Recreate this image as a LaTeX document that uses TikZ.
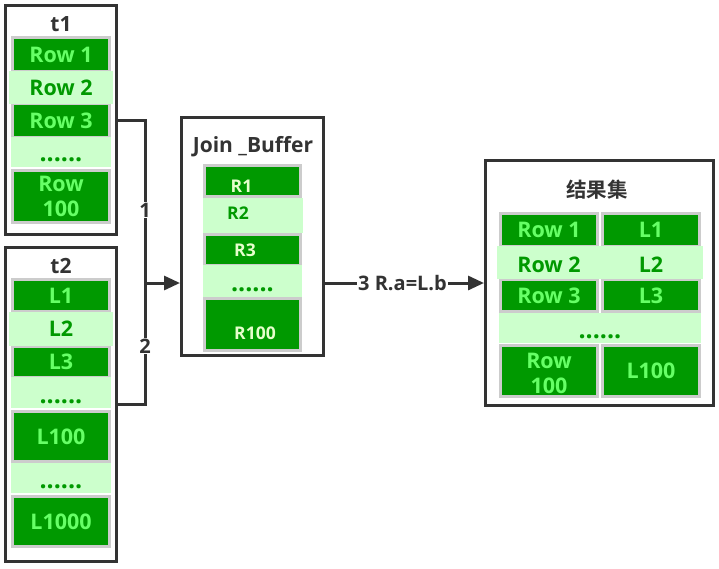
\documentclass[tikz,border=0pt]{standalone}
\usepackage{fontspec}
\setmainfont{Open Sans}
\newfontfamily\cjk{Noto Sans CJK SC Bold}
\usetikzlibrary{arrows.meta}
\definecolor{dk}{HTML}{333333}
\definecolor{gr}{HTML}{009900}
\definecolor{lt}{HTML}{66FF66}
\definecolor{bd}{HTML}{CCFFCC}
\definecolor{dg}{HTML}{009900}
\definecolor{gy}{HTML}{CCCCCC}
\definecolor{pl}{HTML}{E6FFCC}
\newcommand{\fs}[1]{\fontsize{#1}{25}\selectfont}
\tikzset{
  box/.style={draw=dk, line width=3pt, fill=white, inner sep=0pt},
  cell/.style={fill=gr, draw=gy, line width=3pt, text=lt, inner sep=0pt,
    minimum width=97pt, font=\bfseries\fs{21.5}, align=center},
  band/.style={fill=bd, text=dg, inner sep=0pt, font=\bfseries\fs{21.5}, align=center},
  small/.style={font=\bfseries\fs{17.5}, inner sep=0pt},
  dotl/.style={text=dg, font=\bfseries\fs{25}, inner sep=0pt},
  ttl/.style={text=dk, font=\bfseries\fs{21}, inner sep=0pt},
  conn/.style={draw=dk, line width=3pt},
  lab/.style={fill=white, text=dk, font=\bfseries\fs{20}, inner sep=1pt},
  tip/.style={-{Triangle[length=16pt,width=14pt]}}
}
\begin{document}
\begin{tikzpicture}[x=1pt,y=-1pt]
\useasboundingbox[fill=white] (0,0) rectangle (719,568);
% outer boxes
\node[box, minimum width=111pt, minimum height=229pt] (t1) at (61,120) {};
\node[box, minimum width=111pt, minimum height=314pt] (t2) at (61,404.5) {};
\node[box, minimum width=142pt, minimum height=238pt] (join) at (252.5,236.5) {};
\node[box, minimum width=228pt, minimum height=245pt] (result) at (599.5,283) {};
% titles
\node[ttl] (t1t) at (61,24) {t1};
\node[ttl] (t2t) at (61,266) {t2};
\node[ttl] (jt) at (253,147) {Join \_Buffer};
\node[ttl, font=\cjk\fs{20.5}] (rt) at (597,190) {结果集};
% t1 cells
\node[cell, minimum height=34pt] (r1) at (61,54.5) {Row 1};
\node[cell, minimum height=34pt] (r3) at (61,120.5) {Row 3};
\node[cell, minimum height=52pt] (r100) at (61,196) {Row\\100};
\node[band, minimum width=104pt, minimum height=33pt] (r2) at (61,87.5) {Row 2};
\node[band, minimum width=100pt, minimum height=30pt,
  label={[dotl, yshift=-8pt]center:......}] (rd) at (61,152) {};
% t2 cells
\node[cell, minimum height=32pt] (l1) at (61,295.5) {L1};
\node[cell, minimum height=31pt] (l3) at (61,362) {L3};
\node[cell, minimum height=50pt] (l100) at (61,436.5) {L100};
\node[cell, minimum height=50pt] (l1000) at (61,521.5) {L1000};
\node[band, minimum width=104pt, minimum height=34pt] (l2) at (61,329) {L2};
\node[band, minimum width=100pt, minimum height=31pt,
  label={[dotl, yshift=-9.5pt]center:......}] (ld1) at (61,392.5) {};
\node[band, minimum width=100pt, minimum height=30pt,
  label={[dotl, yshift=-9pt]center:......}] (ld2) at (61,478) {};
% join buffer cells
\node[cell, minimum width=96pt, minimum height=31pt,
  label={[small, text=pl, xshift=-11pt, yshift=-5pt]center:R1}] (b1) at (252.5,181) {};
\node[cell, minimum width=96pt, minimum height=31pt,
  label={[small, text=pl, xshift=-7.5pt]center:R3}] (b3) at (252.5,250) {};
\node[cell, minimum width=96pt, minimum height=52pt,
  label={[small, text=pl, xshift=2.5pt, yshift=-8.5pt]center:R100}] (b100) at (252.5,324.5) {};
\node[band, minimum width=100pt, minimum height=35pt,
  label={[small, text=dg, xshift=-15pt, yshift=2.5pt]center:R2}] (b2) at (253,215.5) {};
\node[band, minimum width=99pt, minimum height=32pt,
  label={[dotl, yshift=-9pt]center:......}] (bd) at (252.5,281) {};
% result cells
\node[cell, minimum height=33pt] (s1) at (549,230) {Row 1};
\node[cell, minimum height=33pt] (u1) at (651,230) {L1};
\node[cell, minimum height=32pt] (s3) at (549,295.5) {Row 3};
\node[cell, minimum height=32pt] (u3) at (651,295.5) {L3};
\node[cell, minimum height=51pt,
  label={[cell, draw=none, fill=none, yshift=-2pt]center:Row\\100}] (s100) at (549,371) {};
\node[cell, minimum height=51pt] (u100) at (651,371) {L100};
\node[band, minimum width=206pt, minimum height=33pt] (sb2) at (600,262.5) {};
\node[band] (s2) at (549,265) {Row 2};
\node[band] (u2) at (651,265) {L2};
\node[band, minimum width=202pt, minimum height=30pt,
  label={[dotl, yshift=-9pt]center:......}] (sd) at (600,328) {};
% connectors
\coordinate (jn) at (145,283);
\draw[conn] (t1.east) -| node[lab, pos=0.776] (n1) {1} (jn);
\draw[conn] (t2.east) -| node[lab, pos=0.74] (n2) {2} (jn);
\draw[conn, tip] (jn) -- (join.west |- jn);
\draw[conn, tip] (join.east |- result.west) -- node[lab, xshift=-2pt] (n3) {3 R.a=L.b} (result.west);
\end{tikzpicture}
\end{document}
